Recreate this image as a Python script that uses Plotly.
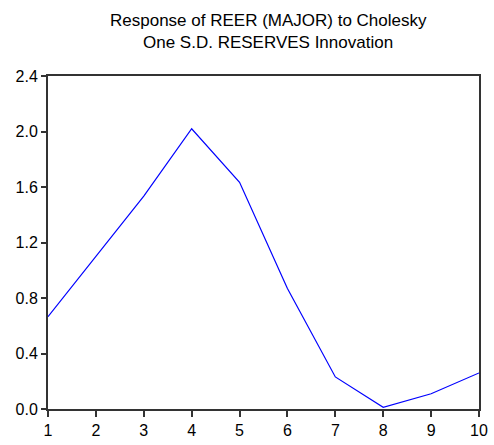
import plotly.graph_objects as go

periods = [1, 2, 3, 4, 5, 6, 7, 8, 9, 10]
response = [0.665, 1.10, 1.535, 2.02, 1.634, 0.868, 0.231, 0.012, 0.11, 0.26]
y_ticks = [0.0, 0.4, 0.8, 1.2, 1.6, 2.0, 2.4]
y_tick_labels = ["0.0", "0.4", "0.8", "1.2", "1.6", "2.0", "2.4"]
title_lines = ["Response of REER (MAJOR) to Cholesky", "One S.D. RESERVES Innovation"]

W, H = 494, 445
ml, mr, mt, mb = 48, 15, 76, 36

fig = go.Figure()
fig.add_trace(go.Scatter(x=periods, y=response, mode="lines",
                         line=dict(color="#0000ff", width=1.2),
                         hoverinfo="skip", showlegend=False))

fig.update_layout(
    width=W, height=H,
    margin=dict(l=ml, r=mr, t=mt, b=mb, pad=0, autoexpand=False),
    paper_bgcolor="white", plot_bgcolor="white",
    font=dict(family="Liberation Sans, Arial, sans-serif", color="black"),
    xaxis=dict(range=[1, 10], tickvals=periods, ticktext=[str(p) for p in periods],
               automargin=False,
               showgrid=False, zeroline=False, showline=True, mirror=True,
               linecolor="#333333", linewidth=2, ticks="outside", ticklen=6,
               tickwidth=1.5, tickcolor="#333333", tickfont=dict(size=16)),
    yaxis=dict(range=[0, 2.4], tickvals=y_ticks, ticktext=y_tick_labels,
               automargin=False,
               showgrid=False, zeroline=False, showline=True, mirror=True,
               linecolor="#333333", linewidth=2, ticks="outside", ticklen=5,
               tickwidth=1.5, tickcolor="#333333", tickfont=dict(size=16)),
)

plot_w = W - ml - mr
plot_h = H - mt - mb
cx = (268 - ml) / plot_w
for line, yc in zip(title_lines, [20, 42]):
    fig.add_annotation(text=line, xref="paper", yref="paper",
                       x=cx, y=1 + (mt - yc) / plot_h,
                       xanchor="center", yanchor="middle",
                       showarrow=False, font=dict(size=17))

fig.write_html("out.html", config={"displayModeBar": False},
               post_script="document.body.style.margin='0';document.body.style.overflow='hidden';")
